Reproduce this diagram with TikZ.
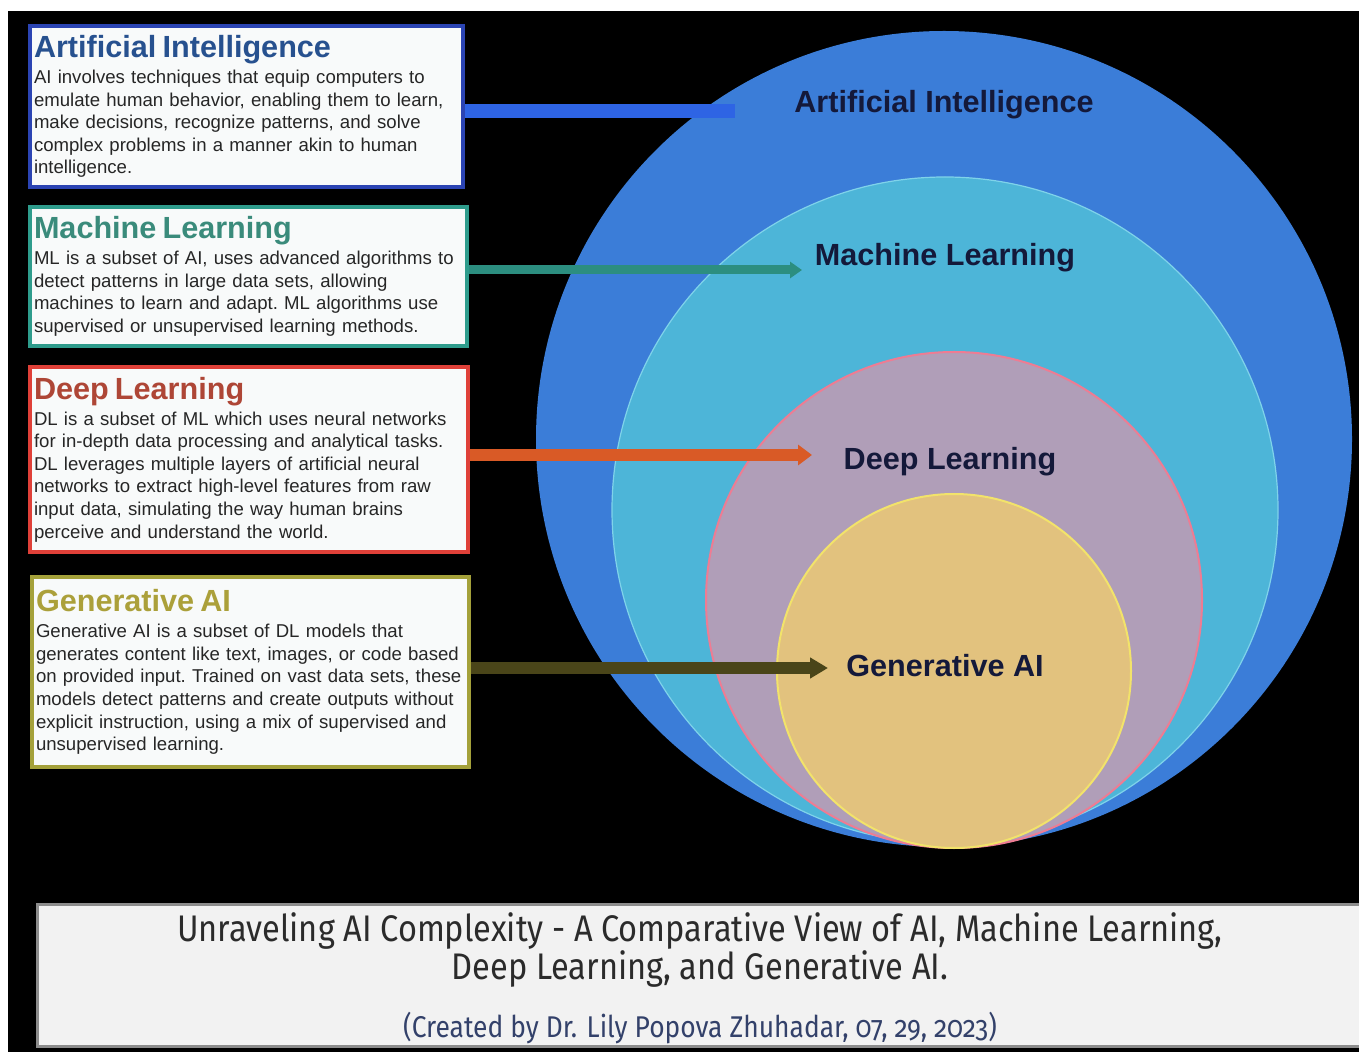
\documentclass[tikz,border=0pt]{standalone}
\usepackage{fontspec}
\setmainfont{Liberation Sans}
\newfontfamily\capfont[FakeStretch=0.88,Numbers=OldStyle]{Fira Sans}
\usetikzlibrary{arrows.meta}

\definecolor{aiblue}{HTML}{3B7DD8}
\definecolor{mlcyan}{HTML}{4DB5D8}
\definecolor{mlrim}{HTML}{7FD3EA}
\definecolor{dlmauve}{HTML}{B09EB8}
\definecolor{dlpink}{HTML}{EE7C93}
\definecolor{genfill}{HTML}{E2C27E}
\definecolor{genrim}{HTML}{F2E36A}
\definecolor{labelnavy}{HTML}{14193A}
\definecolor{aiedge}{HTML}{2B44B3}
\definecolor{aititle}{HTML}{27518F}
\definecolor{mledge}{HTML}{2E9C8C}
\definecolor{mltitle}{HTML}{3A8B7B}
\definecolor{dledge}{HTML}{DF4038}
\definecolor{dltitle}{HTML}{AE4636}
\definecolor{genedge}{HTML}{A4A13A}
\definecolor{gentitle}{HTML}{ABA03A}
\definecolor{boxfill}{HTML}{F8FAFA}
\definecolor{bodytext}{HTML}{262626}
\definecolor{ailine}{HTML}{2E64E4}
\definecolor{mlline}{HTML}{2C8E80}
\definecolor{dlline}{HTML}{D95A26}
\definecolor{genline}{HTML}{4A4519}
\definecolor{capfill}{HTML}{F2F2F2}
\definecolor{capedge}{HTML}{8C8C8C}
\definecolor{captext}{HTML}{2B2B2B}
\definecolor{credittext}{HTML}{33416A}

\newcommand{\boxtitle}[2]{{\fontsize{15.3}{18}\selectfont\bfseries\color{#1}#2}\\[1.7pt]}

\begin{document}
\begin{tikzpicture}[x=0.5pt,y=-0.5pt,
    infobox/.style={draw,line width=2pt,fill=boxfill,anchor=north west,align=left,
        inner xsep=2pt,inner ysep=0pt,text=bodytext,font=\fontsize{9.3}{11.3}\selectfont\frenchspacing},
    circlabel/.style={text=labelnavy,font=\fontsize{15.3}{18}\selectfont\bfseries},
    linkarrow/.style={line width=#1}]
    \useasboundingbox (0,0) rectangle (1359,1052);
    \fill[white] (0,0) rectangle (1359,1052);
    \fill[black] (8,11) rectangle (1359,1052);

    \fill[aiblue] (944,439) circle [radius=204pt];
    \draw[mlrim,line width=0.6pt,fill=mlcyan] (945,510) circle [radius=166.5pt];
    \draw[dlpink,line width=1pt,fill=dlmauve] (954,600) circle [radius=124pt];
    \draw[genrim,line width=1pt,fill=genfill] (954,671) circle [radius=88.5pt];

    \node[circlabel] (ailabel) at (944,105) {Artificial Intelligence};
    \node[circlabel] (mllabel) at (945,258) {Machine Learning};
    \node[circlabel] (dllabel) at (950,462) {Deep Learning};
    \node[circlabel] (genlabel) at (945,666) {Generative AI};

    \node[infobox,draw=aiedge,minimum width=216.5pt,minimum height=80.5pt,text width=212.5pt] (aibox) at (28,24) {%
        \boxtitle{aititle}{Artificial Intelligence}
        AI involves techniques that equip computers to\\
        emulate human behavior, enabling them to learn,\\
        make decisions, recognize patterns, and solve\\
        complex problems in a manner akin to human\\
        intelligence.};
    \node[infobox,draw=mledge,minimum width=218.5pt,minimum height=69.5pt,text width=214.5pt] (mlbox) at (28,205) {%
        \boxtitle{mltitle}{Machine Learning}
        ML is a subset of AI, uses advanced algorithms to\\
        detect patterns in large data sets, allowing\\
        machines to learn and adapt. ML algorithms use\\
        supervised or unsupervised learning methods.};
    \node[infobox,draw=dledge,minimum width=219pt,minimum height=92.5pt,text width=215pt] (dlbox) at (28,365) {%
        \boxtitle{dltitle}{Deep Learning}
        DL is a subset of ML which uses neural networks\\
        for in-depth data processing and analytical tasks.\\
        DL leverages multiple layers of artificial neural\\
        networks to extract high-level features from raw\\
        input data, simulating the way human brains\\
        perceive and understand the world.};
    \node[infobox,draw=genedge,minimum width=218.5pt,minimum height=95pt,text width=214.5pt] (genbox) at (30,575) {%
        \boxtitle{gentitle}{Generative AI}
        Generative AI is a subset of DL models that\\
        generates content like text, images, or code based\\
        on provided input. Trained on vast data sets, these\\
        models detect patterns and create outputs without\\
        explicit instruction, using a mix of supervised and\\
        unsupervised learning.};

    \coordinate (aitip) at (735,111);
    \coordinate (mltip) at (802,270);
    \coordinate (dltip) at (812,455);
    \coordinate (gentip) at (828,668);
    \draw[linkarrow=7pt,ailine] (aibox.east |- aitip) -- (aitip);
    \draw[linkarrow=4.5pt,mlline,-{Triangle[length=6pt,width=8pt]}] (mlbox.east |- mltip) -- (mltip);
    \draw[linkarrow=6pt,dlline,-{Triangle[length=7pt,width=10pt]}] (dlbox.east |- dltip) -- (dltip);
    \draw[linkarrow=5.5pt,genline,-{Triangle[length=9pt,width=10pt]}] (genbox.east |- gentip) -- (gentip);

    \node[draw=capedge,line width=1.5pt,fill=capfill,anchor=north west,minimum width=665pt,minimum height=71pt] (capbox) at (36,903) {};
    \node[text=captext,align=center,font=\capfont\fontsize{18.5}{17.5}\selectfont] (captitle) at (700,950)
        {Unraveling AI Complexity - A Comparative View of AI, Machine Learning,\\ Deep Learning, and Generative AI.};
    \node[text=credittext,font=\capfont\fontsize{15}{17}\selectfont] (capcredit) at (700,1028)
        {(Created by Dr. Lily Popova Zhuhadar, 07, 29, 2023)};
\end{tikzpicture}
\end{document}
